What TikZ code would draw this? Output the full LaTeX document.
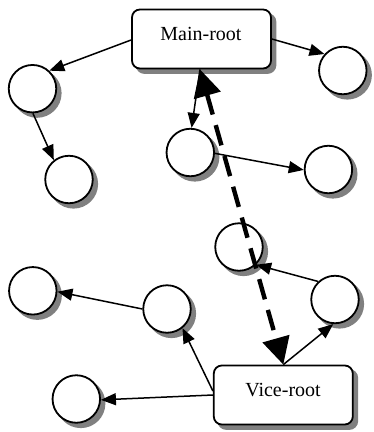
\documentclass[tikz,border=0pt]{standalone}
\usepackage{fontspec}
\setmainfont{Liberation Serif}
\usetikzlibrary{arrows.meta,calc}
\definecolor{shadowgray}{RGB}{128,128,128}

\begin{document}
\begin{tikzpicture}[x=1pt,y=-1pt,
  leaf/.style={circle,draw,line width=1.8pt,fill=white,minimum size=47.5pt,inner sep=0pt},
  rootbox/.style={draw,line width=1.8pt,fill=white,rounded corners=8pt,minimum width=139pt,minimum height=59pt,inner sep=0pt},
  shadowfill/.style={fill=shadowgray,draw=none},
  lbl/.style={font=\fontsize{20}{24}\selectfont,inner sep=0pt},
  link/.style={line width=1.5pt,-{Triangle[length=15pt,width=12pt]}},
  dualtie/.style={line width=4.4pt,dash pattern=on 21pt off 11pt,{Triangle[length=27pt,width=27pt]}-{Triangle[length=27pt,width=27pt]}}
]
\useasboundingbox (0,0) rectangle (373,432);

% positions of the roots and member nodes
\coordinate (pmain) at (201.5,39);
\coordinate (pvice) at (283.3,395);
\coordinate (p1) at (32.5,88.7);
\coordinate (p2) at (69,179.5);
\coordinate (p3) at (342.8,70.5);
\coordinate (p4) at (190.3,152.5);
\coordinate (p5) at (328.4,169.5);
\coordinate (p6) at (239,247);
\coordinate (p7) at (32.8,290.8);
\coordinate (p8) at (167,309);
\coordinate (p9) at (335,299.5);
\coordinate (p10) at (76.3,399);

% drop shadows, offset down and to the right
\foreach \n in {1,...,10}
  \path[shadowfill] ($(p\n)+(4.5,4.5)$) circle[radius=24.6pt];
\foreach \n in {main,vice}
  \path[shadowfill,rounded corners=8.9pt]
    ($(p\n)+(-65.9,-25.9)$) rectangle ($(p\n)+(74.9,34.9)$);

% the two roots
\node[rootbox] (main) at (pmain) {};
\node[lbl] (mainlbl) at (201,33.7) {Main-root};
\node[rootbox] (vice) at (pvice) {};
\node[lbl] (vicelbl) at (283,390) {Vice-root};

% member nodes
\foreach \n in {1,...,10}
  \node[leaf] (c\n) at (p\n) {};

% tree links
\draw[link] ([yshift=-1pt]main.west) -- (c1.47);
\draw[link] (main.east) -- (c3.138);
\draw[link] (c1.-89) -- (c2.128);
\draw[link] ([xshift=-1.5pt]main.south) -- (c4.87);
\draw[link] (c4.-2) -- (c5.181);
\draw[link] (c9.133) -- (c6.-46);
\draw[link] (vice.north) -- (c9.-94);
\draw[link] (c8.180) -- (c7.-2);
\draw[link] ([yshift=4pt]vice.west) -- (c8.-51);
\draw[link] (vice.west) -- (c10.-2);

% link between the two roots
\draw[dualtie] ([xshift=-1.5pt]main.south) -- (vice.north);
\end{tikzpicture}
\end{document}
